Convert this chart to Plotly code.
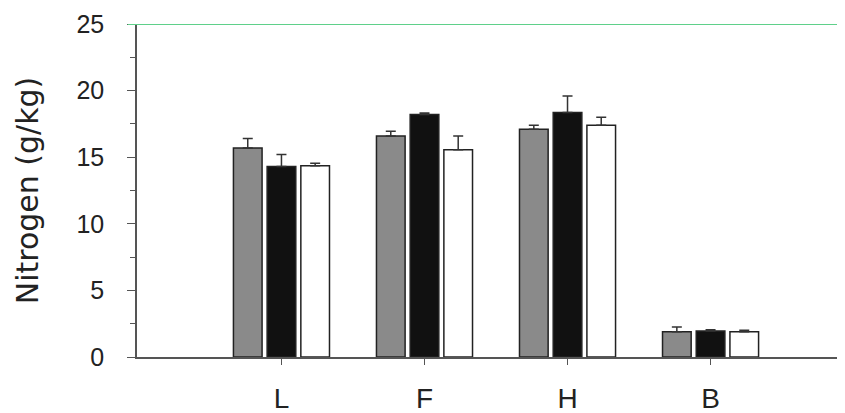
import plotly.graph_objects as go

categories = ["L", "F", "H", "B"]
series_names = ["Gray", "Black", "White"]
gray_vals = [15.7, 16.6, 17.1, 1.9]
gray_err = [0.7, 0.35, 0.3, 0.35]
black_vals = [14.3, 18.2, 18.35, 1.95]
black_err = [0.9, 0.12, 1.25, 0.1]
white_vals = [14.35, 15.55, 17.4, 1.9]
white_err = [0.2, 1.05, 0.6, 0.1]
y_ticks = [0, 5, 10, 15, 20, 25]
ref_line = 25

fills = ["#8a8a8a", "#111111", "#ffffff"]
vals = [gray_vals, black_vals, white_vals]
errs = [gray_err, black_err, white_err]

fig = go.Figure()
xs = list(range(len(categories)))
for name, v, e, c in zip(series_names, vals, errs, fills):
    fig.add_trace(go.Bar(
        x=xs, y=v, name=name,
        marker=dict(color=c, line=dict(color="#222222", width=1.5)),
        error_y=dict(type="data", array=e, symmetric=False, arrayminus=[0]*len(e),
                     color="#333333", thickness=1.5, width=5),
    ))

fig.add_shape(type="line", xref="paper", yref="y", x0=-0.013, x1=1, y0=ref_line, y1=ref_line,
              line=dict(color="#5fd08a", width=2))

fig.update_layout(
    width=837, height=405,
    margin=dict(l=129, r=0, t=16, b=56),
    paper_bgcolor="white", plot_bgcolor="white",
    barmode="group", bargap=0.293, bargroupgap=0.15,
    showlegend=False,
    font=dict(family="Liberation Sans, Arial, sans-serif", color="#222222"),
)
fig.update_xaxes(
    range=[-1.01, 3.94], tickmode="array", tickvals=xs, ticktext=categories,
    showline=True, linecolor="#555555", linewidth=2, showgrid=False, zeroline=False,
    ticks="outside", ticklen=6, tickcolor="#555555", tickwidth=1,
    ticklabelstandoff=9,
    tickfont=dict(size=28, color="#222222"),
)
fig.update_yaxes(
    range=[0, 25], tickvals=y_ticks, showline=True, linecolor="#555555", linewidth=1.5,
    showgrid=False, zeroline=False, ticks="outside", ticklen=8, tickcolor="#555555",
    minor=dict(dtick=2.5, ticks="outside", ticklen=5, tickcolor="#555555"),
    ticklabelstandoff=18,
    tickfont=dict(size=25, color="#222222"),
    title=dict(text="Nitrogen (g/kg)",
               font=dict(family="DejaVu Sans, sans-serif", size=30, color="#222222"),
               standoff=29),
)

fig.write_html("out.html")
